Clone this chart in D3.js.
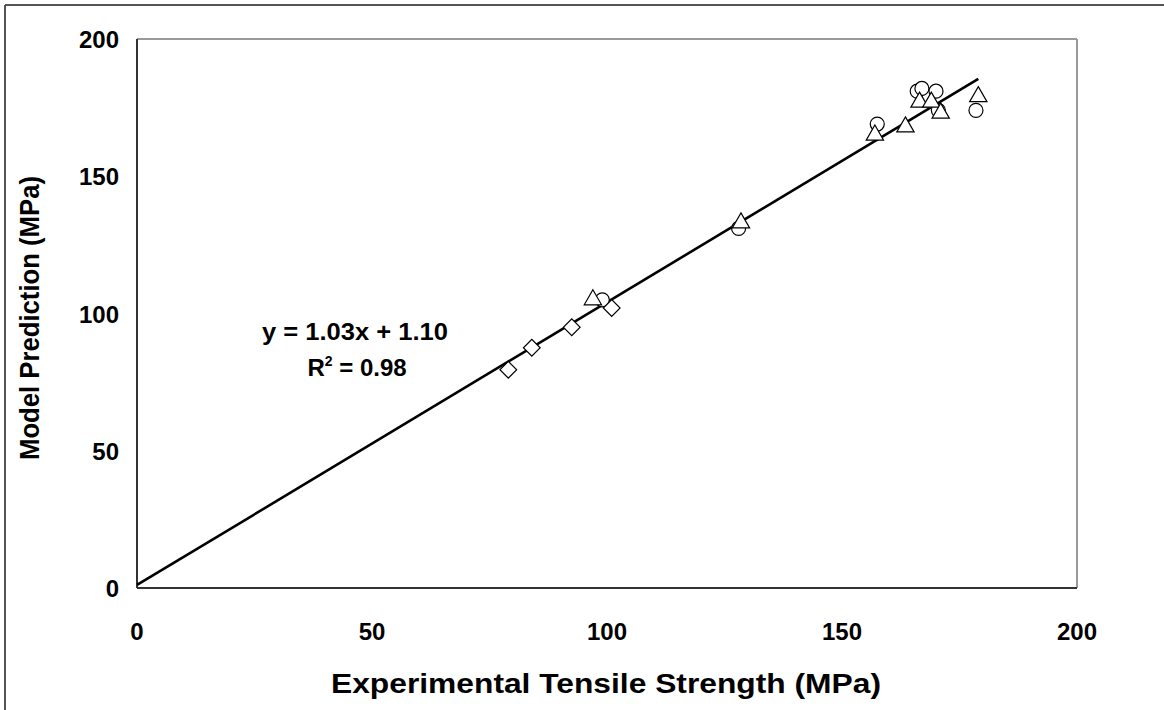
<!DOCTYPE html>
<html lang="en">
<head>
<meta charset="utf-8">
<title>Model Prediction vs Experimental Tensile Strength</title>
<script src="https://d3js.org/d3.v7.min.js"></script>
<style>
  body { margin: 0; background: #fff; font-family: 'Liberation Sans', Arial, sans-serif; }
  .tick-label { font-size: 24px; font-weight: bold; fill: #000; }
  .axis-title { font-size: 27px; font-weight: bold; fill: #000; }
  .eq { font-size: 24px; font-weight: bold; fill: #000; }
  .marker { fill: #fff; stroke: #000; stroke-width: 1.2px; }
</style>
</head>
<body>
<svg id="chart" width="1164" height="710"></svg>
<script>
// series
var circleX = [99, 128, 157.5, 166, 167, 170, 170.5, 178.5];
var circleY = [105, 131, 169, 181, 182, 181, 174, 174];
var triangleX = [97, 128.5, 157, 163.5, 166.5, 169, 171, 179];
var triangleY = [105, 133, 165, 168, 177, 177, 173, 179];
var diamondX = [79, 84, 92.5, 101];
var diamondY = [79.5, 87.5, 95, 102];
var xTicks = [0, 50, 100, 150, 200];
var yTicks = [0, 50, 100, 150, 200];
var slope = 1.03, intercept = 1.10, lineEndX = 179;

var svg = d3.select("#chart");
var pLeft = 137, pRight = 1077, pTop = 39, pBottom = 588;

var x = d3.scaleLinear().domain([0, 200]).range([pLeft, pRight]);
var y = d3.scaleLinear().domain([0, 200]).range([pBottom, pTop]);

// outer chart frame (left / top edges)
svg.append("line").attr("x1", 5).attr("y1", 5).attr("x2", 1164).attr("y2", 5)
  .attr("stroke", "#555").attr("stroke-width", 2);
svg.append("line").attr("x1", 5).attr("y1", 5).attr("x2", 5).attr("y2", 710)
  .attr("stroke", "#555").attr("stroke-width", 2);

// plot area: gray top/right, dark axes left/bottom
svg.append("line").attr("x1", pLeft).attr("y1", pTop).attr("x2", pRight).attr("y2", pTop)
  .attr("stroke", "#999").attr("stroke-width", 2);
svg.append("line").attr("x1", pRight).attr("y1", pTop).attr("x2", pRight).attr("y2", pBottom)
  .attr("stroke", "#999").attr("stroke-width", 2);
svg.append("line").attr("x1", pLeft).attr("y1", pTop).attr("x2", pLeft).attr("y2", pBottom)
  .attr("stroke", "#333").attr("stroke-width", 2);
svg.append("line").attr("x1", pLeft).attr("y1", pBottom).attr("x2", pRight).attr("y2", pBottom)
  .attr("stroke", "#333").attr("stroke-width", 2);

svg.selectAll(".xt").data(xTicks).enter().append("text")
  .attr("class", "tick-label")
  .attr("x", function(d) { return x(d); })
  .attr("y", pBottom + 52)
  .attr("text-anchor", "middle")
  .text(function(d) { return d; });

svg.selectAll(".yt").data(yTicks).enter().append("text")
  .attr("class", "tick-label")
  .attr("x", pLeft - 18)
  .attr("y", function(d) { return y(d) + 9; })
  .attr("text-anchor", "end")
  .text(function(d) { return d; });

svg.append("text").attr("class", "axis-title")
  .attr("x", 606).attr("y", 693)
  .attr("text-anchor", "middle")
  .attr("textLength", 550).attr("lengthAdjust", "spacingAndGlyphs")
  .text("Experimental Tensile Strength (MPa)");

svg.append("text").attr("class", "axis-title")
  .attr("transform", "translate(39,318)rotate(-90)")
  .attr("text-anchor", "middle")
  .attr("textLength", 284).attr("lengthAdjust", "spacingAndGlyphs")
  .text("Model Prediction (MPa)");

// trendline
svg.append("line")
  .attr("x1", x(0)).attr("y1", y(intercept))
  .attr("x2", x(lineEndX)).attr("y2", y(slope * lineEndX + intercept))
  .attr("stroke", "#000").attr("stroke-width", 2.6);

// markers
svg.selectAll(".c").data(d3.zip(circleX, circleY)).enter().append("circle")
  .attr("class", "marker")
  .attr("cx", function(d) { return x(d[0]); })
  .attr("cy", function(d) { return y(d[1]); })
  .attr("r", 7);

var tri = d3.symbol().type(d3.symbolTriangle).size(130);
svg.selectAll(".t").data(d3.zip(triangleX, triangleY)).enter().append("path")
  .attr("class", "marker")
  .attr("d", tri)
  .attr("transform", function(d) { return "translate(" + x(d[0]) + "," + y(d[1]) + ")"; });

var dia = d3.symbol().type(d3.symbolSquare).size(140);
svg.selectAll(".d").data(d3.zip(diamondX, diamondY)).enter().append("path")
  .attr("class", "marker")
  .attr("d", dia)
  .attr("transform", function(d) { return "translate(" + x(d[0]) + "," + y(d[1]) + ")rotate(45)"; });

// equation label
svg.append("text").attr("class", "eq")
  .attr("x", 355).attr("y", 340).attr("text-anchor", "middle")
  .attr("textLength", 186).attr("lengthAdjust", "spacingAndGlyphs")
  .text("y = 1.03x + 1.10");
var r2 = svg.append("text").attr("class", "eq")
  .attr("x", 357).attr("y", 376).attr("text-anchor", "middle");
r2.append("tspan").text("R");
r2.append("tspan").attr("font-size", "14px").attr("dy", -10).text("2");
r2.append("tspan").attr("dy", 10).text(" = 0.98");
</script>
</body>
</html>
